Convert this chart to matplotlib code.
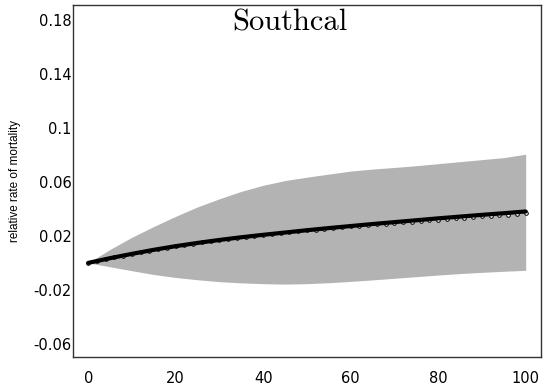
import matplotlib
matplotlib.use("Agg")
import matplotlib.pyplot as plt
import numpy as np

# band and mean, read every 5 years
ages = [0, 5, 10, 15, 20, 25, 30, 35, 40, 45, 50,
        55, 60, 65, 70, 75, 80, 85, 90, 95, 100]
upper = [0.0, 0.010, 0.019, 0.027, 0.0345, 0.0415, 0.0475, 0.053, 0.0575, 0.061, 0.0635,
         0.0658, 0.068, 0.0695, 0.0707, 0.072, 0.0735, 0.075, 0.0765, 0.078, 0.0805]
lower = [0.0, -0.0029, -0.0058, -0.0086, -0.0108, -0.0125, -0.0139, -0.0148, -0.0154, -0.0157, -0.0154,
         -0.0147, -0.0137, -0.0126, -0.0114, -0.0102, -0.0090, -0.0079, -0.0070, -0.0062, -0.0055]
mean_rate = [0.0, 0.0035, 0.0067, 0.0097, 0.0124, 0.0148, 0.0170, 0.0190, 0.0208, 0.0225, 0.0242,
             0.0258, 0.0273, 0.0288, 0.0302, 0.0316, 0.0330, 0.0343, 0.0356, 0.0368, 0.0381]

# second estimate shown as open circles, every 2 years
circ_ages = list(range(0, 101, 2))
circ_rate = [0.0, 0.0014, 0.0028, 0.0041, 0.0054, 0.0067, 0.0079, 0.0091, 0.0102, 0.0113,
             0.0124, 0.0134, 0.0143, 0.0152, 0.0161, 0.0170, 0.0178, 0.0186, 0.0194, 0.0201,
             0.0208, 0.0215, 0.0222, 0.0228, 0.0235, 0.0241, 0.0247, 0.0253, 0.0259, 0.0264,
             0.0270, 0.0275, 0.0281, 0.0286, 0.0291, 0.0296, 0.0301, 0.0306, 0.0311, 0.0316,
             0.0321, 0.0326, 0.0330, 0.0335, 0.0339, 0.0344, 0.0348, 0.0353, 0.0357, 0.0361,
             0.0366]

xticks = [0, 20, 40, 60, 80, 100]
yticks = [-0.06, -0.02, 0.02, 0.06, 0.1, 0.14, 0.18]
ytick_labels = ["-0.06", "-0.02", "0.02", "0.06", "0.1", "0.14", "0.18"]

fig = plt.figure(figsize=(5.44, 3.89), dpi=100)
ax = fig.add_axes([0.134, 0.0823, 0.8605, 0.9047])

ax.fill_between(ages, lower, upper, color="#b3b3b3", linewidth=0)
ax.plot(circ_ages, circ_rate, "o", ms=2.6, mfc="white", mec="black", mew=0.7, zorder=3)
ax.plot(ages, mean_rate, "-", color="black", lw=3.0, solid_capstyle="round", zorder=4)

ax.set_xlim(-3.5, 103.5)
ax.set_ylim(-0.0697, 0.191)
ax.set_xticks(xticks)
ax.set_xticklabels([str(t) for t in xticks])
ax.set_yticks(yticks)
ax.set_yticklabels(ytick_labels)
ax.tick_params(length=0, labelsize=10.5)
ax.tick_params(axis="x", pad=10)
ax.tick_params(axis="y", pad=1)
for lab in ax.get_xticklabels() + ax.get_yticklabels():
    lab.set_family("DejaVu Sans")

for s in ax.spines.values():
    s.set_linewidth(1.0)
    s.set_color("#333333")

ax.set_ylabel("relative rate of mortality", family="Liberation Sans",
              fontsize=8.5, labelpad=9)
ax.text(0.4637, 0.99, "Southcal", transform=ax.transAxes, ha="center", va="top",
        family="cmr10", fontsize=22)

fig.savefig("out.png", dpi=100)
